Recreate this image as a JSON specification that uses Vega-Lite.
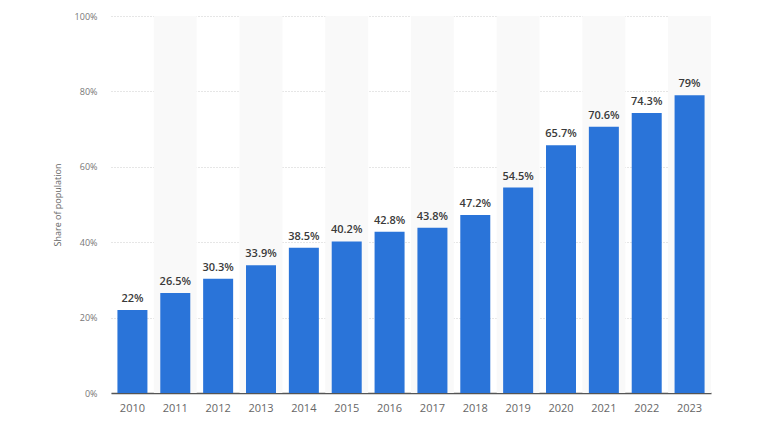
{
  "$schema": "https://vega.github.io/schema/vega-lite/v6.json",
  "autosize": "none",
  "width": 600,
  "height": 377,
  "padding": {"left": 111, "top": 16, "right": 57, "bottom": 49},
  "background": "#ffffff",
  "config": {"view": {"stroke": null}, "font": "Open Sans"},
  "data": {"values": [
    {"year": "2010", "share": 0.22, "stripe": 0},
    {"year": "2011", "share": 0.265, "stripe": 1},
    {"year": "2012", "share": 0.303, "stripe": 0},
    {"year": "2013", "share": 0.339, "stripe": 1},
    {"year": "2014", "share": 0.385, "stripe": 0},
    {"year": "2015", "share": 0.402, "stripe": 1},
    {"year": "2016", "share": 0.428, "stripe": 0},
    {"year": "2017", "share": 0.438, "stripe": 1},
    {"year": "2018", "share": 0.472, "stripe": 0},
    {"year": "2019", "share": 0.545, "stripe": 1},
    {"year": "2020", "share": 0.657, "stripe": 0},
    {"year": "2021", "share": 0.706, "stripe": 1},
    {"year": "2022", "share": 0.743, "stripe": 0},
    {"year": "2023", "share": 0.79, "stripe": 1}
  ]},
  "layer": [
    {
      "mark": {"type": "bar", "color": "#f9f9f9"},
      "encoding": {
        "x": {"field": "year", "type": "nominal", "scale": {"paddingInner": 0, "paddingOuter": 0}, "axis": null},
        "y": {"field": "stripe", "type": "quantitative", "scale": {"domain": [0, 1]}, "axis": null}
      }
    },
    {
      "layer": [
        {
          "mark": {"type": "bar", "color": "#2a74d9"},
          "encoding": {
            "x": {"field": "year", "type": "nominal", "scale": {"paddingInner": 0.3, "paddingOuter": 0.15},
              "axis": {"title": null, "labelAngle": 0, "ticks": false, "labelPadding": 9, "labelFontSize": 11, "labelColor": "#666666", "domainColor": "#555555", "domainWidth": 1.5, "grid": false}},
            "y": {"field": "share", "type": "quantitative", "scale": {"domain": [0, 1]},
              "axis": {"title": "Share of population", "titleFontSize": 9, "titleFontWeight": "normal", "titleColor": "#666666", "titlePadding": 12, "format": ".0%", "values": [0, 0.2, 0.4, 0.6, 0.8, 1], "labelFontSize": 9, "labelColor": "#777777", "labelPadding": 14, "ticks": false, "domain": false, "grid": true, "gridColor": "#cccccc", "gridDash": [1, 2]}}
          }
        },
        {
          "mark": {"type": "text", "baseline": "bottom", "dy": -6, "fontSize": 11, "fontWeight": 600, "color": "#3a3a3a"},
          "encoding": {
            "x": {"field": "year", "type": "nominal"},
            "y": {"field": "share", "type": "quantitative"},
            "text": {"field": "share", "type": "quantitative", "format": ".1~%"}
          }
        }
      ]
    }
  ],
  "resolve": {"scale": {"x": "independent", "y": "independent"}}
}
